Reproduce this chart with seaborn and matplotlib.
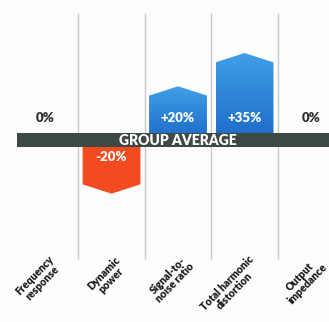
import numpy as np
import pandas as pd
import matplotlib
matplotlib.use("Agg")
import matplotlib.pyplot as plt
import seaborn as sns
from matplotlib.patches import Polygon, Rectangle
from matplotlib.colors import LinearSegmentedColormap
import matplotlib.transforms as mtrans

categories = ["Frequency\nresponse", "Dynamic\npower", "Signal-to-\nnoise ratio",
              "Total harmonic\ndistortion", "Output\nimpedance"]
values = [0, -20, 20, 35, 0]
value_labels = ["0%", "-20%", "+20%", "+35%", "0%"]
band_label = "GROUP AVERAGE"

sns.set_theme(style="white")
plt.rcParams['font.family'] = ['Lato', 'DejaVu Sans']

fig = plt.figure(figsize=(3.29, 3.22), dpi=100)
fig.patch.set_facecolor('#fdfdfd')
ax = fig.add_axes([0, 60 / 322, 1, 262 / 322])
ax.set_facecolor('#fdfdfd')

df = pd.DataFrame({"cat": categories, "val": values})
sns.barplot(data=df, x="cat", y="val", ax=ax, width=0.87, color="#1e6fcf",
            saturation=1, zorder=2)

blue_cmap = LinearSegmentedColormap.from_list("b", ["#1c6bc8", "#419fe7"])
tip = 4.2
for p, v in zip(ax.patches, values):
    p.set_visible(False)
    if v == 0:
        continue
    x0 = p.get_x()
    x1 = x0 + p.get_width()
    xc = (x0 + x1) / 2
    h = p.get_height()
    sgn = 1 if h > 0 else -1
    verts = [(x0, 0), (x0, h), (xc, h + sgn * tip), (x1, h), (x1, 0)]
    if v > 0:
        poly = Polygon(verts, closed=True, facecolor='none', edgecolor='none', zorder=2)
        ax.add_patch(poly)
        grad = np.linspace(0, 1, 256).reshape(-1, 1)
        im = ax.imshow(grad, cmap=blue_cmap, origin='lower', aspect='auto',
                       extent=[x0, x1, 0, h + tip], zorder=2)
        im.set_clip_path(poly)
    else:
        poly = Polygon(verts, closed=True, facecolor='#f24a21', edgecolor='none', zorder=2)
        ax.add_patch(poly)

# column separators
ax.vlines([0.5, 1.5, 2.5, 3.5], -53.5, 57.2, color='#c8c8c8', lw=1.0, zorder=1)

# group average band
ax.add_patch(Rectangle((-0.42, -3.2), 5.0, 6.4, facecolor='#3d4a44', edgecolor='none', zorder=3))
ax.text(2.0, -0.2, band_label, ha='center', va='center', color='white',
        fontsize=10, fontweight='heavy', zorder=4)

for i, (v, lab) in enumerate(zip(values, value_labels)):
    if v == 0:
        ax.text(i, 10, lab, ha='center', va='center', color='#2b2b2b',
                fontsize=9.5, fontweight='heavy', zorder=4)
    elif v > 0:
        ax.text(i, 10, lab, ha='center', va='center', color='white',
                fontsize=9.5, fontweight='heavy', zorder=4)
    else:
        ax.text(i, -7.5, lab, ha='center', va='center', color='white',
                fontsize=9.5, fontweight='heavy', zorder=4)

ax.set_xlim(-0.677, 4.27)
ax.set_ylim(-55, 63.1)
ax.set_yticks([])
ax.set_xlabel("")
ax.set_ylabel("")
for s in ax.spines.values():
    s.set_visible(False)
ax.tick_params(axis='x', length=0, pad=0)
ax.set_xticks(range(len(categories)))
ax.set_xticklabels(categories, rotation=46, ha='right', va='top', rotation_mode='anchor',
                   multialignment='center',
                   fontsize=7.6, fontweight='heavy', color='#1a1a1a', linespacing=0.92)
offset = mtrans.ScaledTranslation(3 / 100, 8 / 100, fig.dpi_scale_trans)
for t in ax.get_xticklabels():
    t.set_transform(t.get_transform() + offset)

fig.savefig("out.png", dpi=100, facecolor=fig.get_facecolor())
